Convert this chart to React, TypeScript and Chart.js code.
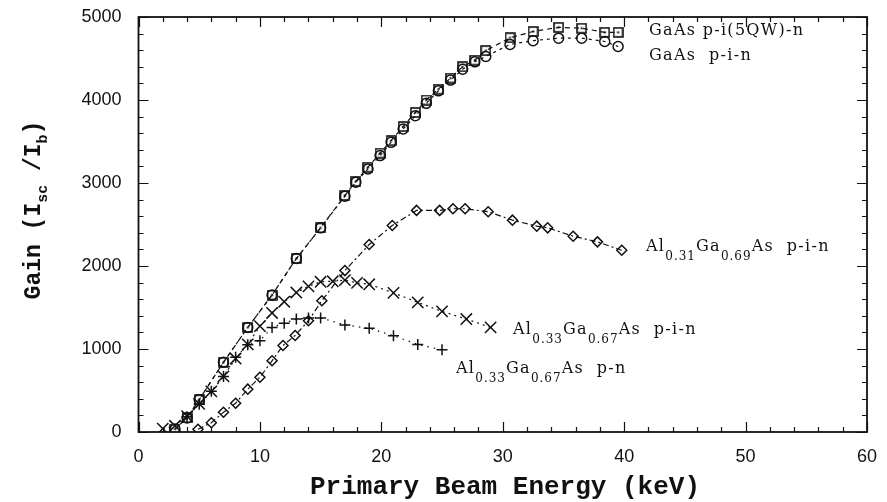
import React, { useEffect, useRef } from "react";
import { Chart, registerables } from "chart.js";
Chart.register(...registerables);

const W = 887;
const H = 502;

// ---- axis ticks ----
const xTickValues = [0, 10, 20, 30, 40, 50, 60];
const yTickValues = [0, 1000, 2000, 3000, 4000, 5000];
const xMinorStep = 2;
const yMinorStep = 200;

// ---- GaAs p-i(5QW)-n (squares) ----
const qwX = [3, 4, 5, 7, 9, 11, 13, 15, 17, 17.9, 18.9, 19.9, 20.8, 21.8, 22.8, 23.7, 24.7, 25.7, 26.7, 27.7, 28.6, 30.6, 32.5, 34.6, 36.5, 38.4, 39.5];
const qwY = [35, 170, 390, 840, 1260, 1650, 2090, 2460, 2850, 3020, 3190, 3360, 3510, 3680, 3850, 4000, 4130, 4265, 4400, 4480, 4595, 4750, 4825, 4875, 4865, 4815, 4815];

// ---- GaAs p-i-n (circles) ----
const pinX = [3, 4, 5, 7, 9, 11, 13, 15, 17, 17.9, 18.9, 19.9, 20.8, 21.8, 22.8, 23.7, 24.7, 25.7, 26.7, 27.7, 28.6, 30.6, 32.5, 34.6, 36.5, 38.4, 39.5];
const pinY = [35, 170, 390, 840, 1260, 1650, 2090, 2460, 2840, 3010, 3170, 3330, 3490, 3650, 3810, 3960, 4110, 4240, 4370, 4460, 4525, 4670, 4715, 4745, 4745, 4705, 4645];

// ---- Al0.31Ga0.69As p-i-n (diamonds) ----
const al31X = [4.9, 6.0, 7.0, 8.0, 9.0, 10.0, 11.0, 11.9, 12.9, 14.0, 15.1, 17.0, 19.0, 20.9, 22.9, 24.8, 25.9, 26.9, 28.8, 30.8, 32.8, 33.7, 35.8, 37.8, 39.8];
const al31Y = [33, 112, 238, 347, 516, 660, 858, 1042, 1163, 1341, 1582, 1945, 2259, 2488, 2670, 2670, 2690, 2690, 2654, 2552, 2480, 2460, 2359, 2291, 2190];

// ---- Al0.33Ga0.67As p-i-n (x marks) ----
const al33pinX = [2, 3, 4, 5, 6, 7, 8, 9, 10, 11, 12, 13, 14, 15, 16, 17, 18, 19, 21, 23, 25, 27, 29];
const al33pinY = [40, 75, 190, 340, 490, 670, 885, 1055, 1275, 1434, 1570, 1680, 1755, 1810, 1816, 1830, 1796, 1780, 1676, 1562, 1453, 1361, 1260];

// ---- Al0.33Ga0.67As p-n (plus marks) ----
const al33pnX = [4, 5, 6, 7, 8, 9, 10, 11, 12, 13, 14, 15, 17, 19, 21, 23, 25];
const al33pnY = [185, 335, 490, 670, 900, 1050, 1100, 1260, 1310, 1360, 1373, 1375, 1290, 1250, 1160, 1055, 990];

const INK = "#111";
const LABEL_FONT = "'DejaVu Serif', serif";

type Seg = { t: string; sub?: boolean };
const seriesLabels: { segs: Seg[]; px: number; py: number }[] = [
  { segs: [{ t: "GaAs p-i(5QW)-n" }], px: 649, py: 35 },
  { segs: [{ t: "GaAs  p-i-n" }], px: 649, py: 60 },
  { segs: [{ t: "Al" }, { t: "0.31", sub: true }, { t: "Ga" }, { t: "0.69", sub: true }, { t: "As  p-i-n" }], px: 646, py: 251 },
  { segs: [{ t: "Al" }, { t: "0.33", sub: true }, { t: "Ga" }, { t: "0.67", sub: true }, { t: "As  p-i-n" }], px: 513, py: 334 },
  { segs: [{ t: "Al" }, { t: "0.33", sub: true }, { t: "Ga" }, { t: "0.67", sub: true }, { t: "As  p-n" }], px: 456, py: 373 },
];

const toPts = (xs: number[], ys: number[]) => xs.map((x, i) => ({ x, y: ys[i] }));

function squareDot(size: number) {
  const c = document.createElement("canvas");
  c.width = size;
  c.height = size;
  const g = c.getContext("2d")!;
  g.strokeStyle = INK;
  g.lineWidth = 1.6;
  g.strokeRect(1, 1, size - 2, size - 2);
  g.fillStyle = INK;
  g.fillRect(size / 2 - 1, size / 2 - 1, 2, 2);
  return c;
}

const zeroPad = (s: any) => {
  s.paddingTop = 0;
  s.paddingBottom = 0;
  s.paddingLeft = 0;
  s.paddingRight = 0;
};

const framePlugin = {
  id: "frameTicks",
  afterDraw(chart: any) {
    const { ctx, chartArea: a, scales } = chart;
    const xs = scales.x;
    const ys = scales.y;
    ctx.save();
    ctx.strokeStyle = INK;
    ctx.lineWidth = 1.2;
    ctx.beginPath();
    for (let v = xs.min; v <= xs.max + 1e-9; v += xMinorStep) {
      const p = Math.round(xs.getPixelForValue(v)) + 0.5;
      const len = v % 10 === 0 ? 10 : 5;
      ctx.moveTo(p, a.bottom);
      ctx.lineTo(p, a.bottom - len);
      ctx.moveTo(p, a.top);
      ctx.lineTo(p, a.top + len);
    }
    for (let v = ys.min; v <= ys.max + 1e-9; v += yMinorStep) {
      const p = Math.round(ys.getPixelForValue(v)) + 0.5;
      const len = v % 1000 === 0 ? 10 : 5;
      ctx.moveTo(a.left, p);
      ctx.lineTo(a.left + len, p);
      ctx.moveTo(a.right, p);
      ctx.lineTo(a.right - len, p);
    }
    ctx.stroke();
    ctx.lineWidth = 1.8;
    ctx.strokeRect(a.left, a.top, a.right - a.left, a.bottom - a.top);

    // series labels
    ctx.fillStyle = INK;
    ctx.textBaseline = "alphabetic";
    ctx.textAlign = "left";
    for (const lab of seriesLabels) {
      let x = lab.px;
      for (const s of lab.segs) {
        ctx.font = s.sub ? `12px ${LABEL_FONT}` : `16px ${LABEL_FONT}`;
        (ctx as any).letterSpacing = s.sub ? "1px" : "1.3px";
        ctx.fillText(s.t, x, s.sub ? lab.py + 9 : lab.py);
        x += ctx.measureText(s.t).width;
      }
    }
    (ctx as any).letterSpacing = "0px";

    // y-axis title with subscripts
    const ttl: Seg[] = [{ t: "Gain (I" }, { t: "sc", sub: true }, { t: " /I" }, { t: "b", sub: true }, { t: ")" }];
    const big = "bold 23px 'Liberation Mono', monospace";
    const small = "bold 15px 'Liberation Mono', monospace";
    let total = 0;
    for (const s of ttl) {
      ctx.font = s.sub ? small : big;
      total += ctx.measureText(s.t).width;
    }
    ctx.translate(40, 210);
    ctx.rotate(-Math.PI / 2);
    let x = -total / 2;
    for (const s of ttl) {
      ctx.font = s.sub ? small : big;
      ctx.fillText(s.t, x, s.sub ? 7 : 0);
      x += ctx.measureText(s.t).width;
    }
    ctx.restore();

    // x-axis title
    ctx.save();
    ctx.fillStyle = INK;
    ctx.font = "bold 26px 'Liberation Mono', monospace";
    ctx.textAlign = "center";
    ctx.textBaseline = "alphabetic";
    ctx.fillText("Primary Beam Energy (keV)", 505, 494);
    ctx.restore();
  },
};

export default function App() {
  const ref = useRef<HTMLCanvasElement | null>(null);
  useEffect(() => {
    if (!ref.current) return;
    const common = {
      borderColor: INK,
      pointBorderColor: INK,
      backgroundColor: "rgba(0,0,0,0)",
      pointBackgroundColor: "rgba(0,0,0,0)",
      borderWidth: 1.2,
      pointBorderWidth: 1.5,
      showLine: true,
      tension: 0,
    };
    const tickFont = { family: "'Liberation Sans', Arial, sans-serif", size: 18 };
    const chart = new Chart(ref.current, {
      type: "scatter",
      data: {
        datasets: [
          { ...common, label: "GaAs p-i-n", data: toPts(pinX, pinY), pointStyle: "circle", pointRadius: 5, borderDash: [3, 4] },
          { ...common, label: "GaAs p-i(5QW)-n", data: toPts(qwX, qwY), pointStyle: squareDot(11) as any, pointRadius: 5.5, borderDash: [5, 4] },
          { ...common, label: "Al0.31Ga0.69As p-i-n", data: toPts(al31X, al31Y), pointStyle: "rectRot", pointRadius: 5, borderDash: [6, 3, 2, 3] },
          { ...common, label: "Al0.33Ga0.67As p-i-n", data: toPts(al33pinX, al33pinY), pointStyle: "crossRot", pointRadius: 8, borderDash: [2, 4] },
          { ...common, label: "Al0.33Ga0.67As p-n", data: toPts(al33pnX, al33pnY), pointStyle: "cross", pointRadius: 5.5, borderDash: [1.5, 5] },
        ],
      },
      options: {
        animation: false,
        responsive: false,
        devicePixelRatio: 1,
        layout: { padding: { top: 17, right: 20, left: 0, bottom: 0 } },
        plugins: { legend: { display: false }, tooltip: { enabled: false } },
        scales: {
          x: {
            type: "linear",
            min: 0,
            max: 60,
            afterFit: (s: any) => { s.height = 70; zeroPad(s); },
            afterBuildTicks: (s: any) => { s.ticks = xTickValues.map((v) => ({ value: v })); },
            grid: { display: false, drawTicks: false },
            border: { display: false },
            ticks: { padding: 14, color: INK, font: tickFont, callback: (v: any) => String(v) },
          },
          y: {
            type: "linear",
            min: 0,
            max: 5000,
            afterFit: (s: any) => { s.width = 138.5; zeroPad(s); },
            afterBuildTicks: (s: any) => { s.ticks = yTickValues.map((v) => ({ value: v })); },
            grid: { display: false, drawTicks: false },
            border: { display: false },
            ticks: { padding: 17, color: INK, font: tickFont, callback: (v: any) => String(v) },
          },
        },
      },
      plugins: [framePlugin],
    } as any);
    return () => chart.destroy();
  }, []);
  return (
    <div style={{ position: "fixed", left: 0, top: 0, width: W, height: H, background: "#fff" }}>
      <canvas ref={ref} width={W} height={H} style={{ display: "block", width: W, height: H }} />
    </div>
  );
}
